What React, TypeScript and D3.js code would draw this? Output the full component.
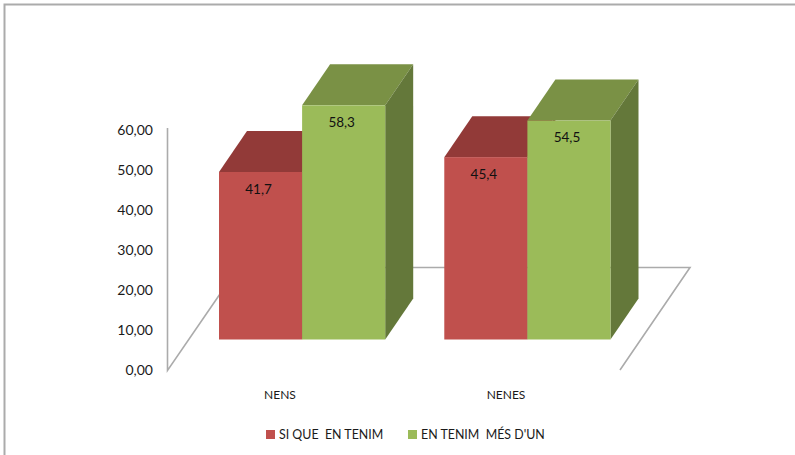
import React from "react";
import * as d3 from "d3";

const categories = ["NENS", "NENES"];
const seriesNames = ["SI QUE  EN TENIM", "EN TENIM  MÉS D'UN"];
const siQue = [41.7, 45.4];
const mesDun = [58.3, 54.5];
const valueLabels = [["41,7", "45,4"], ["58,3", "54,5"]];
const axisTicks = [0, 10, 20, 30, 40, 50, 60];

const colors = [
  { front: "#C0504D", top: "#923A38", side: "#7F3230" },
  { front: "#9BBB59", top: "#7A9145", side: "#64783A" },
];
const font = "Lato, 'Open Sans', sans-serif";
const textColor = "#1a1a1a";
const lineColor = "#ABABAB";

const y = d3.scaleLinear().domain([0, 60]).range([339.5, 98.5]);
const axisY = d3.scaleLinear().domain([0, 60]).range([370.5, 130.5]);
const groupX = d3.scaleBand<string>().domain(categories).range([219, 610.5]).paddingInner(0.2622).paddingOuter(0);
const serX = d3.scaleBand<string>().domain(["0", "1"]).range([0, groupX.bandwidth()]);
const depth = { dx: 28, dy: -41 };
const poly = d3.line<[number, number]>();

export default function App() {
  const series = [siQue, mesDun];
  return (
    <svg
      width={795}
      height={455}
      style={{ position: "absolute", left: 0, top: 0, background: "#fff" }}
      fontFamily={font}
    >
      <path d="M4.5 455V4.5H795" fill="none" stroke="#ABABAB" strokeWidth={2} />

      {/* 3D floor and axis */}
      <path d="M167.5 128V370.5L220 294" fill="none" stroke={lineColor} strokeWidth={1.6} />
      <path d="M385 267.5H690L620 370" fill="none" stroke={lineColor} strokeWidth={1.6} />

      {axisTicks.map((t) => (
        <text key={t} x={153} y={axisY(t)} dy="0.35em" textAnchor="end" fontSize={14} fill={textColor}>
          {t.toFixed(2).replace(".", ",")}
        </text>
      ))}

      {categories.map((c, ci) => {
        const gx = groupX(c)!;
        return (
          <g key={c}>
            {series.map((vals, si) => {
              const x0 = gx + serX(String(si))!;
              const x1 = x0 + serX.bandwidth();
              const yt = y(vals[ci]);
              const yb = y(0);
              const { dx, dy } = depth;
              const col = colors[si];
              return (
                <g key={si}>
                  <path d={poly([[x0, yt], [x1, yt], [x1 + dx, yt + dy], [x0 + dx, yt + dy]])!} fill={col.top} />
                  <path d={poly([[x1, yt], [x1 + dx, yt + dy], [x1 + dx, yb + dy], [x1, yb]])!} fill={col.side} />
                  <rect x={x0} y={yt} width={x1 - x0} height={yb - yt} fill={col.front} />
                </g>
              );
            })}
            {series.map((vals, si) => {
              const x0 = gx + serX(String(si))!;
              return (
                <text
                  key={si}
                  x={x0 + serX.bandwidth() / 2 - 2}
                  y={y(vals[ci]) + 17}
                  dy="0.35em"
                  textAnchor="middle"
                  fontSize={13.5}
                  fill="#111"
                >
                  {valueLabels[si][ci]}
                </text>
              );
            })}
            <text x={ci === 0 ? 280 : 506} y={394.5} dy="0.35em" textAnchor="middle" fontSize={12} fill={textColor}>
              {c}
            </text>
          </g>
        );
      })}

      {seriesNames.map((n, i) => {
        const lx = i === 0 ? 266 : 408;
        return (
          <g key={n}>
            <rect x={lx} y={430} width={9} height={9} fill={colors[i].front} />
            <text x={lx + 13} y={435} dy="0.35em" fontSize={12.4} fill={textColor} xmlSpace="preserve">
              {n}
            </text>
          </g>
        );
      })}
    </svg>
  );
}
